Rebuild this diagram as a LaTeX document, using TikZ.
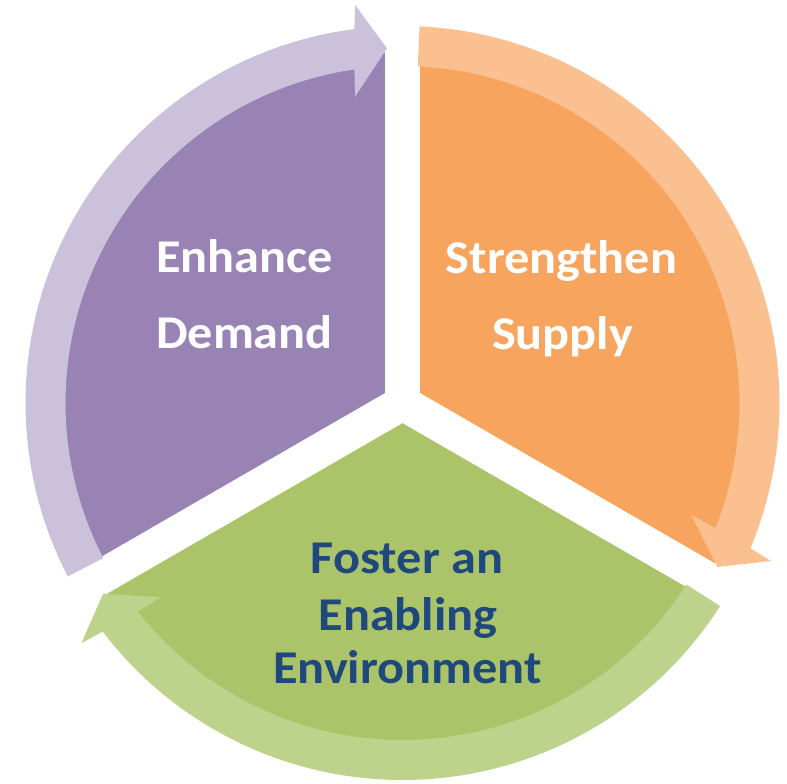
\documentclass[tikz,border=0pt]{standalone}
\usepackage{fontspec}
\setmainfont{Carlito}[FakeStretch=1.07]
\definecolor{purpPie}{RGB}{153,130,180}
\definecolor{purpArr}{RGB}{204,193,219}
\definecolor{orPie}{RGB}{247,165,94}
\definecolor{orArr}{RGB}{250,192,144}
\definecolor{grPie}{RGB}{171,196,106}
\definecolor{grArr}{RGB}{189,210,138}
\definecolor{txtBlue}{RGB}{31,73,125}
\tikzset{
  lbl/.style={anchor=base,inner sep=0pt,font=\fontsize{47}{56}\selectfont\bfseries},
  cyclearrow/.pic={
    \fill[#1] (207.4:377pt) arc[start angle=207.4,end angle=97.33,radius=377pt]
      -- (96.8:401pt) -- (92.5:355pt) -- (98.8:310pt) -- (98.21:337pt)
      arc[start angle=98.21,end angle=207.4,radius=337pt] -- cycle;
  }
}
\begin{document}
\begin{tikzpicture}[x=1pt,y=1pt]
\useasboundingbox (-402.5pt,-381pt) rectangle (384.5pt,403pt);
\coordinate (C) at (0,0);
% pie sectors
\fill[purpPie] (-17.5pt,10.1pt) -- (92.86:351pt) arc[start angle=92.86,end angle=207.14,radius=351pt] -- cycle;
\fill[orPie] (17.5pt,10.1pt) -- (87.14:351pt) arc[start angle=87.14,end angle=-27.14,radius=351pt] -- cycle;
\fill[grPie] (0pt,-20.2pt) -- (212.86:351pt) arc[start angle=212.86,end angle=327.14,radius=351pt] -- cycle;
% circular arrows
\pic (arrP) at (C) {cyclearrow=purpArr};
\pic[rotate=-120] (arrO) at (C) {cyclearrow=orArr};
\pic[rotate=120] (arrG) at (C) {cyclearrow=grArr};
% labels
\node[lbl,text=white] (t1a) at (-158,130.7) {Enhance};
\node[lbl,text=white] (t1b) at (-158,54.7) {Demand};
\node[lbl,text=white] (t2a) at (159,129.7) {Strengthen};
\node[lbl,text=white] (t2b) at (160,53) {Supply};
\node[lbl,text=txtBlue] (t3a) at (4.5,-170.3) {Foster an};
\node[lbl,text=txtBlue] (t3b) at (5.5,-227) {Enabling};
\node[lbl,text=txtBlue] (t3c) at (5,-280.3) {Environment};
\end{tikzpicture}
\end{document}
